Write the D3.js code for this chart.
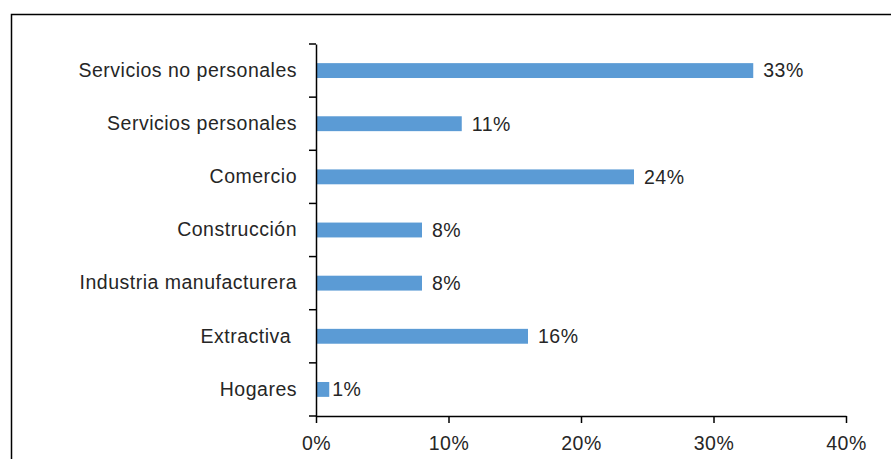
<!DOCTYPE html>
<html><head><meta charset="utf-8">
<script src="https://cdn.jsdelivr.net/npm/d3@7"></script>
<style>
body{margin:0;background:#fff;}
svg{display:block;}
text{font-family:"Liberation Sans",Arial,sans-serif;fill:#262626;letter-spacing:0.5px;}
</style></head>
<body><svg id="c" width="891" height="459"></svg>
<script>
const categories = ["Servicios no personales","Servicios personales","Comercio","Construcción","Industria manufacturera","Extractiva ","Hogares"];
const values = [33, 11, 24, 8, 8, 16, 1];
const xTicks = [0, 10, 20, 30, 40];

const FS = 19.5;
const svg = d3.select("#c");
svg.append("rect").attr("x",11.5).attr("y",14.5).attr("width",900).attr("height",500)
  .attr("fill","none").attr("stroke","#000").attr("stroke-width",1.5);

const x = d3.scaleLinear().domain([0,40]).range([316,846]);
const y = d3.scaleBand().domain(categories).range([44,416]).paddingInner(0.72).paddingOuter(0.36);

// bars
svg.selectAll("rect.bar").data(values).join("rect").attr("class","bar")
  .attr("x", x(0)).attr("y",(d,i)=>y(categories[i]))
  .attr("width",d=>x(d)-x(0)).attr("height",y.bandwidth())
  .attr("fill","#5B9BD5");

// value labels
svg.selectAll("text.val").data(values).join("text").attr("class","val")
  .attr("x",d=>x(d)+ (d<2?3:10)).attr("y",(d,i)=>y(categories[i])+y.bandwidth()/2)
  .attr("dy","0.35em").attr("font-size",FS).text(d=>d+"%");

// y axis
const yAxis = d3.axisLeft(d3.scaleBand().domain(categories).range([44,416])).tickSize(0).tickPadding(19);
const ga = svg.append("g").attr("transform","translate(316,0)").call(yAxis);
ga.select(".domain").attr("stroke","#000").attr("stroke-width",1.5);
ga.selectAll("text").attr("font-size",FS).style("white-space","pre").attr("fill","#262626");
// category boundary ticks
const step = 372/categories.length;
const bounds = d3.range(categories.length+1).map(i=>44+i*step);
svg.selectAll("line.yt").data(bounds).join("line").attr("class","yt")
  .attr("x1",309).attr("x2",316).attr("y1",d=>d).attr("y2",d=>d)
  .attr("stroke","#000").attr("stroke-width",1.5);

// x axis
const xAxis = d3.axisBottom(x).tickValues(xTicks).tickFormat(d=>d+"%").tickSizeInner(7).tickSizeOuter(0).tickPadding(13);
const gx = svg.append("g").attr("transform","translate(0,416)").call(xAxis);
gx.select(".domain").attr("stroke","#000").attr("stroke-width",1.5);
gx.selectAll("line").attr("stroke","#000").attr("stroke-width",1.5);
gx.selectAll("text").attr("font-size",FS).attr("fill","#262626");
</script></body></html>
